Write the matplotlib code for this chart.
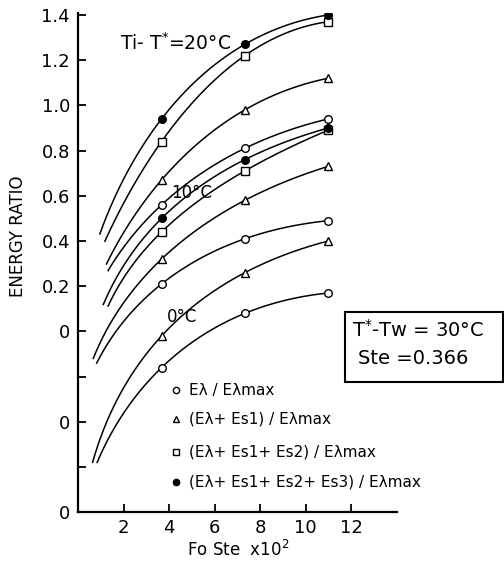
import numpy as np
import matplotlib.pyplot as plt
from matplotlib.patches import Rectangle

# Fo Ste x10^2 at which the points were computed
fo_ste = [3.66, 7.32, 10.98]

# energy ratios, per group (Ti - T*)
# 20 C group (drawn on the labelled axis)
g20_circle = [0.56, 0.81, 0.94]
g20_tri = [0.67, 0.98, 1.12]
g20_square = [0.84, 1.22, 1.37]
g20_filled = [0.94, 1.27, 1.40]
# 10 C group
g10_circle = [0.61, 0.81, 0.89]
g10_tri = [0.72, 0.98, 1.13]
g10_square = [0.84, 1.11, 1.29]
g10_filled = [0.90, 1.16, 1.30]
# 0 C group
g0_circle = [0.64, 0.88, 0.97]
g0_tri = [0.78, 1.06, 1.20]

# where each hand drawn curve starts on the left (x, ratio)
start_g20 = {'circle': (1.31, 0.27), 'tri': (1.24, 0.30), 'square': (1.17, 0.40), 'filled': (0.95, 0.43)}
start_g10 = {'circle': (0.81, 0.26), 'tri': (0.66, 0.28), 'square': (1.31, 0.50), 'filled': (1.10, 0.52)}
start_g0 = {'circle': (0.83, 0.22), 'tri': (0.63, 0.22)}

# vertical shift of each group on the shared axis
offsets = {'20': 0.8, '10': 0.4, '0': 0.0}

groups = [
    ('20', {'circle': g20_circle, 'tri': g20_tri, 'square': g20_square, 'filled': g20_filled}, start_g20),
    ('10', {'circle': g10_circle, 'tri': g10_tri, 'square': g10_square, 'filled': g10_filled}, start_g10),
    ('0', {'circle': g0_circle, 'tri': g0_tri}, start_g0),
]

legend_labels = ['Eλ / Eλmax', '(Eλ+ Es1) / Eλmax', '(Eλ+ Es1+ Es2) / Eλmax', '(Eλ+ Es1+ Es2+ Es3) / Eλmax']

styles = {
    'circle': dict(marker='o', ms=5.5, mfc='white'),
    'tri': dict(marker='^', ms=6, mfc='white'),
    'square': dict(marker='s', ms=6, mfc='white'),
    'filled': dict(marker='o', ms=5.5, mfc='black'),
}


def boxcox(x, p):
    if abs(p) < 1e-6:
        return np.log(x)
    return (np.power(x, p) - 1) / p


def smooth_curve(xs, ys, x0, y0):
    # quadratic through the three points in a power-transformed x,
    # power picked so the curve also meets the hand drawn start point
    xs = np.array(xs)
    xx = np.linspace(x0, xs[-1], 200)
    best = None
    for p in np.linspace(-1.0, 3.0, 401):
        c = np.polyfit(boxcox(xs, p), ys, 2)
        yy = np.polyval(c, boxcox(xx, p))
        if np.any(np.diff(yy) <= 0):
            continue
        err = abs(yy[0] - y0)
        if best is None or err < best[0]:
            best = (err, yy)
    return xx, best[1]


fig = plt.figure(figsize=(5.04, 5.63), dpi=100)
ax = fig.add_axes([0.1553, 0.0900, 0.6317, 0.8874])

for name, curves, starts in groups:
    off = offsets[name]
    for kind, vals in curves.items():
        x0, y0 = starts[kind]
        yv = np.array(vals) + off
        xx, yy = smooth_curve(fo_ste, yv, x0, y0 + off)
        ax.plot(xx, yy, color='black', lw=1.1)
        ax.plot(fo_ste, yv, ls='none', color='black', mec='black', mew=1.0, **styles[kind])

ax.set_xlim(0, 14)
ax.set_ylim(0, 2.21)
ax.spines['top'].set_visible(False)
ax.spines['right'].set_visible(False)
ax.spines['left'].set_linewidth(1.6)
ax.spines['bottom'].set_linewidth(1.6)

ax.set_xticks([2, 4, 6, 8, 10, 12])
yt = np.round(np.arange(0, 2.21, 0.2), 2)
ax.set_yticks(yt)
ylabels = []
for v in yt:
    if v < 0.05 or abs(v - 0.4) < 0.05 or abs(v - 0.8) < 0.05:
        ylabels.append('0')
    elif v < 0.8:
        ylabels.append('')
    else:
        ylabels.append('%.1f' % (v - 0.8))
ax.set_yticklabels(ylabels)
ax.tick_params(direction='in', length=6, width=1.3, labelsize=13)
ax.tick_params(axis='y', pad=6)
ax.tick_params(axis='x', pad=5)

# group labels
ax.text(1.83, 2.076, 'Ti- T$^{*}$=20°C', fontsize=13.5, ha='left', va='center')
ax.text(4.1, 1.413, '10°C', fontsize=12, ha='left', va='center')
ax.text(3.89, 0.864, '0°C', fontsize=12, ha='left', va='center')

# legend drawn by hand, marker then text
leg_y = [0.541, 0.411, 0.268, 0.135]
for kind, lab, y in zip(['circle', 'tri', 'square', 'filled'], legend_labels, leg_y):
    st = dict(styles[kind])
    st['ms'] = st['ms'] - 1
    ax.plot([4.28], [y], ls='none', color='black', mec='black', clip_on=False, **st)
    ax.text(4.89, y, lab, fontsize=11, ha='left', va='center')

# parameter box
fig.add_artist(Rectangle((345 / 504, 1 - 382 / 563), 158 / 504, 70 / 563, transform=fig.transFigure,
                         fill=False, lw=1.5, ec='black'))
fig.text(352 / 504, 1 - 330 / 563, 'T$^{*}$-Tw = 30°C', fontsize=14, ha='left', va='center')
fig.text(358 / 504, 1 - 359 / 563, 'Ste =0.366', fontsize=14, ha='left', va='center')

fig.text(18 / 504, 1 - 236 / 563, 'ENERGY RATIO', rotation=90, fontsize=12, ha='center', va='center')
fig.text(238 / 504, 1 - 550 / 563, 'Fo Ste  x10$^{2}$', fontsize=12, ha='center', va='center')

plt.savefig('out.png', dpi=100)
